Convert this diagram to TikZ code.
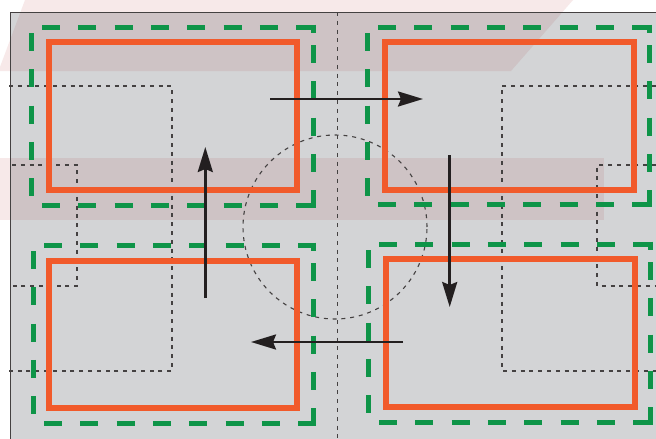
\documentclass[tikz,border=0pt]{standalone}
\usetikzlibrary{arrows.meta}
\definecolor{bggrey}{HTML}{D3D4D6}
\definecolor{wmpink}{HTML}{F7E9E9}
\definecolor{wmmauve}{HTML}{CEC3C5}
\definecolor{orng}{HTML}{F15A2B}
\definecolor{grn}{HTML}{0E9448}
\definecolor{dk}{HTML}{231F20}
\newcommand{\greenbox}[4]{%
  \draw[gdash,dash phase=25.3pt] (#1,#2) -- ({#3+2.5},#2);
  \draw[gdash,dash phase=18.3pt] (#3,#2) -- (#3,{#4+2.5});
  \draw[gsolid] (#3,{#2-2.5}) -- (#3,{#2+6});
  \draw[gdash,dash phase=25.3pt] (#1,#4) -- ({#3+2.5},#4);
  \draw[gdash,dash phase=30.3pt] (#1,#2) -- (#1,#4);
}
\begin{document}
\begin{tikzpicture}[x=1pt,y=-1pt,
  gsolid/.style={draw=grn,line width=5pt},
  gdash/.style={gsolid,dash pattern=on 18.15pt off 18.15pt},
  innerbox/.style={draw=orng,line width=6pt},
  guide/.style={draw=dk!85,line width=1.1pt,dash pattern=on 4pt off 4.8pt},
  flow/.style={draw=dk,line width=2.6pt,-{Stealth[length=25pt,width=15pt,inset=3pt]}}]
\useasboundingbox (0,0) rectangle (656,439);
% background and faint watermark tints
\fill[white] (0,0) rectangle (656,439);
\fill[wmpink] (25,0) -- (573,0) -- (511,71) -- (0,71) -- (0,67) -- cycle;
\fill[wmpink] (0,158) rectangle (604,220);
\fill[bggrey] (10,12) rectangle (656,439);
\begin{scope}
  \clip (10,12) rectangle (656,439);
  \fill[wmmauve] (25,0) -- (573,0) -- (511,71) -- (0,71) -- (0,67) -- cycle;
  \fill[wmmauve] (0,158) rectangle (604,220);
\end{scope}
\draw[line width=0.8pt,draw=dk!85] (10,439) -- (10,12) -- (656,12);
% dashed guide lines
\draw[guide] (337.7,12) -- (337.7,439);
\draw[guide] (9,86) -- (172,86) -- (172,371) -- (9,371);
\draw[guide] (12,165) -- (77,165) -- (77,286) -- (10,286);
\draw[guide] (656,86) -- (502,86) -- (502,371) -- (656,371);
\draw[guide] (656,165) -- (597,165) -- (597,286) -- (656,286);
\draw[guide] (335,227) circle[radius=92pt];
% green dashed outer boxes
\greenbox{31}{27}{313}{205}
\greenbox{367}{27}{649}{204}
\greenbox{33}{245}{313}{423}
\greenbox{368}{244}{650}{422}
% orange boxes
\node[innerbox,inner sep=0pt,minimum width=248pt,minimum height=148pt] (tl) at (173,116) {};
\node[innerbox,inner sep=0pt,minimum width=249pt,minimum height=148pt] (tr) at (509.5,116) {};
\node[innerbox,inner sep=0pt,minimum width=248pt,minimum height=147pt] (bl) at (173,334.5) {};
\node[innerbox,inner sep=0pt,minimum width=249pt,minimum height=148pt] (br) at (510.5,333) {};
% arrows
\coordinate (a1s) at (270,99);   \coordinate (a1e) at (423,99);
\coordinate (a2s) at (449.7,155); \coordinate (a2e) at (449.7,307);
\coordinate (a3s) at (403,342);  \coordinate (a3e) at (251,342);
\coordinate (a4s) at (205.3,298); \coordinate (a4e) at (205.3,147);
\draw[flow] (a1s) -- (a1e);
\draw[flow] (a2s) -- (a2e);
\draw[flow] (a3s) -- (a3e);
\draw[flow] (a4s) -- (a4e);
\end{tikzpicture}
\end{document}
